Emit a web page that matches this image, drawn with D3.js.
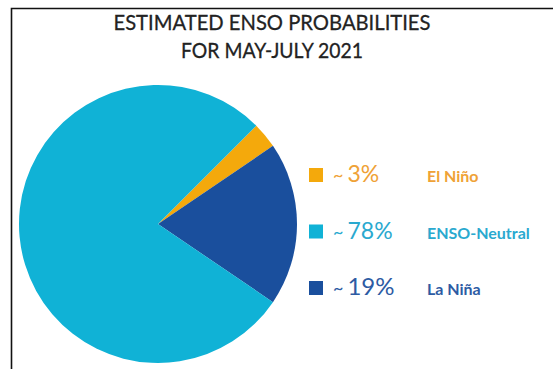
<!DOCTYPE html>
<html>
<head>
<meta charset="utf-8">
<script src="https://cdn.jsdelivr.net/npm/d3@7"></script>
<style>
 body { margin: 0; background: #fff; }
 svg { display: block; }
</style>
</head>
<body>
<script>
 // *** chart values
 var categories = ["El Niño", "La Niña", "ENSO-Neutral"];
 var probabilities = [3, 19, 78];
 var colors = ["#f4a90c", "#1a4f9d", "#10b2d6"];
 var textColors = ["#efa236", "#2d5ba3", "#2aa9cf"];

 // legend order differs from the slice order
 var legendOrder = ["El Niño", "ENSO-Neutral", "La Niña"];
 var legendLabels = ["3%", "78%", "19%"];

 var titleLines = ["ESTIMATED ENSO PROBABILITIES", "FOR MAY-JULY 2021"];

 var width = 553
 var height = 369

 var svg = d3.select('body')
  .append('svg')
  .attr('width', width)
  .attr('height', height);

 // frame
 svg.append('path')
  .attr('d', 'M11.5,369V8.5H553')
  .attr('fill', 'none')
  .attr('stroke', '#111')
  .attr('stroke-width', 1.6);

 // title (squeezed a bit to match the narrow original face)
 var titleWidths = [317, 182];
 svg.selectAll('text.title')
  .data(titleLines)
  .enter()
  .append('text')
  .attr('class', 'title')
  .attr('x', 272)
  .attr('y', function(d, i) { return 30 + i * 28; })
  .attr('text-anchor', 'middle')
  .attr('textLength', function(d, i) { return titleWidths[i]; })
  .attr('lengthAdjust', 'spacingAndGlyphs')
  .style('font-family', 'Lato, sans-serif')
  .style('font-size', '22px')
  .attr('fill', '#222')
  .attr('stroke', '#222')
  .attr('stroke-width', 0.3)
  .text(function(d) { return d; });

 // pie
 var data = categories.map(function(c, i) {
  return { name: c, value: probabilities[i], color: colors[i] };
 });

 var pie = d3.pie()
  .sort(null)
  .value(function(d) { return d.value; })
  .startAngle(Math.PI / 4)
  .endAngle(Math.PI / 4 + 2 * Math.PI);

 var arc = d3.arc().innerRadius(0).outerRadius(139);

 var g = svg.append('g')
  .attr('transform', 'translate(158,224)');

 g.selectAll('path')
  .data(pie(data))
  .enter()
  .append('path')
  .attr('d', arc)
  .attr('fill', function(d) { return d.data.color; });

 // legend
 var rowY = d3.scalePoint()
  .domain(legendOrder)
  .range([182, 295]);

 var legend = svg.selectAll('g.legend')
  .data(legendOrder)
  .enter()
  .append('g')
  .attr('class', 'legend')
  .attr('transform', function(d) { return 'translate(0,' + rowY(d) + ')'; });

 legend.append('rect')
  .attr('x', 309)
  .attr('y', -14)
  .attr('width', 14)
  .attr('height', 14)
  .attr('fill', function(d) { return colors[categories.indexOf(d)]; });

 var pct = legend.append('text')
  .attr('x', 333)
  .attr('y', 0)
  .style('font-family', 'Lato, sans-serif')
  .attr('fill', function(d) { return textColors[categories.indexOf(d)]; });

 pct.append('tspan')
  .style('font-size', '18px')
  .attr('dy', -1)
  .text('~');

 pct.append('tspan')
  .attr('dx', 4)
  .attr('dy', 1)
  .style('font-size', function(d, i) { return i == 2 ? '24px' : '23px'; })
  .text(function(d, i) { return legendLabels[i]; });

 legend.append('text')
  .attr('x', 427)
  .attr('y', 0)
  .style('font-family', 'Lato, sans-serif')
  .style('font-weight', 'bold')
  .style('font-size', '16px')
  .attr('fill', function(d) { return textColors[categories.indexOf(d)]; })
  .text(function(d) { return d; });
</script>
</body>
</html>
